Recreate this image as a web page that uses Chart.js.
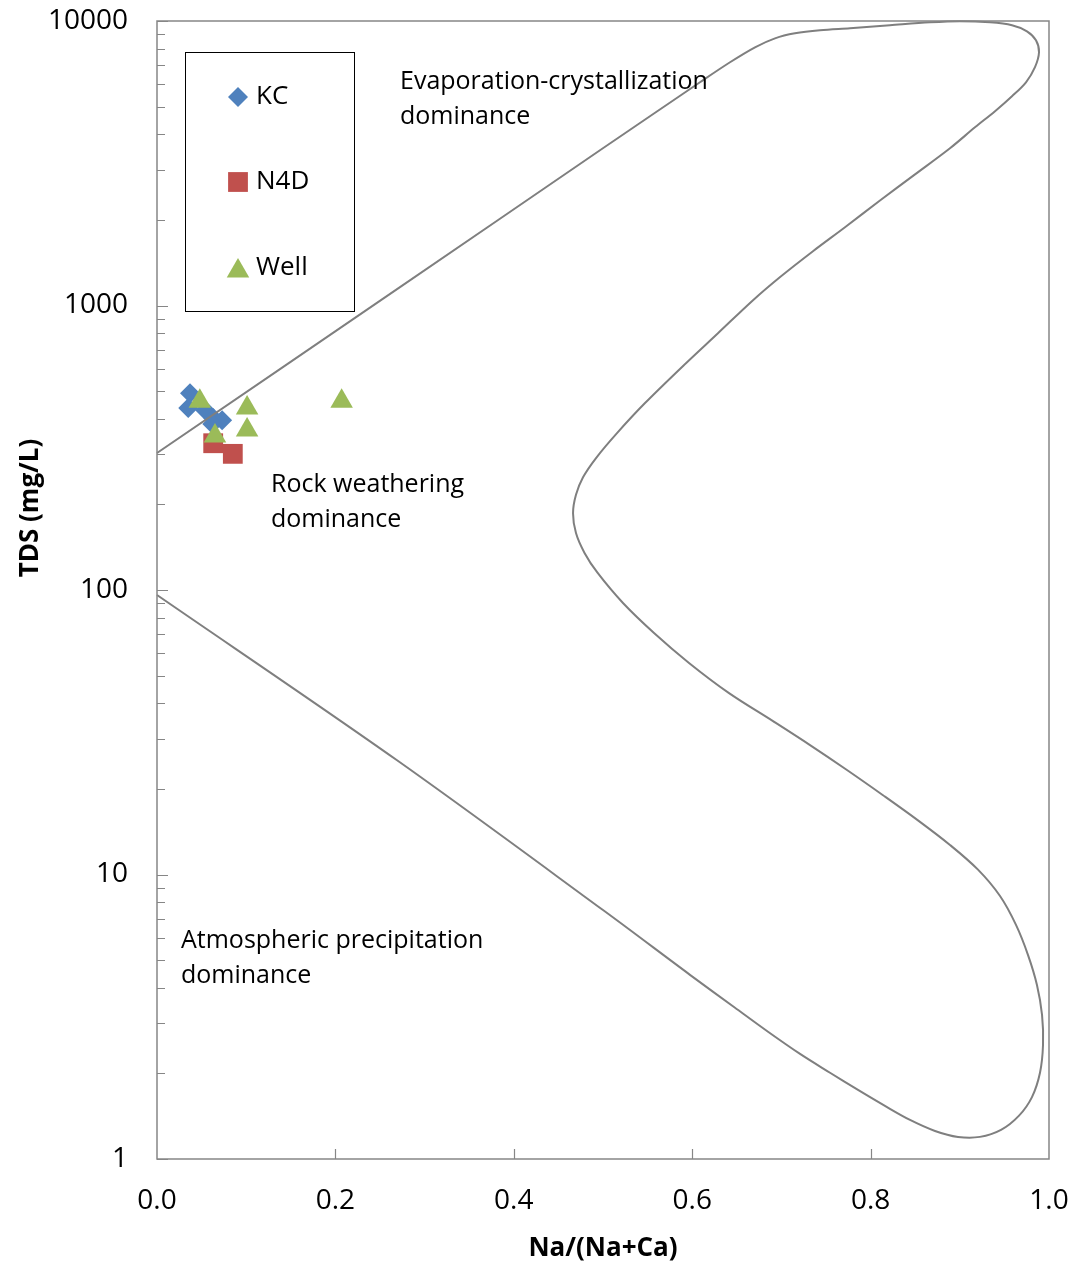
<!DOCTYPE html>
<html>
<head>
<meta charset="utf-8">
<title>Gibbs diagram</title>
<script src="https://cdn.jsdelivr.net/npm/chart.js@4.4.0/dist/chart.umd.min.js"></script>
<style>
  html, body { margin: 0; padding: 0; background: #fff; }
  #wrap { width: 1075px; height: 1266px; }
</style>
</head>
<body>
<div id="wrap"><canvas id="gibbs" width="1075" height="1266"></canvas></div>
<script>
// sample groups: Na/(Na+Ca) ratio and TDS (mg/L)
const kcRatio = [0.037, 0.035, 0.054, 0.063, 0.073, 0.062];
const kcTds = [492, 436, 428, 402, 395, 383];

const n4dRatio = [0.063, 0.085];
const n4dTds = [328, 301];

const wellRatio = [0.048, 0.101, 0.101, 0.065, 0.207];
const wellTds = [461, 436, 365, 348, 461];

// Gibbs boundary envelope, traced from the upper-left end round to the lower-left end
const boundaryRatio = [
  0, 0.2724, 0.4966, 0.6087, 0.6424, 0.6704, 0.6928, 0.7152, 0.7433, 0.7769,
  0.8217, 0.8666, 0.9002, 0.9339, 0.9585, 0.9753, 0.9854, 0.9888, 0.9843, 0.9742,
  0.9585, 0.9395, 0.9170, 0.8890, 0.8498, 0.8105, 0.7713, 0.7354, 0.6996, 0.6682,
  0.6289, 0.5930, 0.5471, 0.5157, 0.4922, 0.4776, 0.4697, 0.4664, 0.4697, 0.4793,
  0.4938, 0.5224, 0.5572, 0.5964, 0.6413, 0.6906, 0.7321, 0.7735, 0.8139, 0.8531,
  0.8890, 0.9204, 0.9451, 0.9630, 0.9765, 0.9865, 0.9922, 0.9933, 0.9899, 0.9809,
  0.9664, 0.9462, 0.9226, 0.8980, 0.8722, 0.8442, 0.8161, 0.7859, 0.7545, 0.7209,
  0.6850, 0.6480, 0.5975, 0.5, 0.2691, 0
];
const boundaryTds = [
  303, 1160, 3513, 6090, 7160, 8080, 8690, 9050, 9280, 9430,
  9660, 9890, 9980, 9890, 9660, 9200, 8550, 7760, 6880, 6090,
  5440, 4820, 4230, 3570, 2890, 2340, 1884, 1552, 1267, 1044,
  799, 627, 454, 356, 291, 249, 216, 186, 158.5, 135,
  115, 90.0, 70.6, 55.4, 43.4, 34.6, 28.5, 23.3, 19.0, 15.5,
  12.7, 10.4, 8.40, 6.65, 5.21, 4.09, 3.21, 2.52, 2.01, 1.65,
  1.42, 1.265, 1.196, 1.196, 1.255, 1.372, 1.537, 1.749, 2.01, 2.34,
  2.80, 3.40, 4.44, 7.50, 25.2, 96
];

const xTicks = [0, 0.2, 0.4, 0.6, 0.8, 1.0];
const yTicks = [1, 10, 100, 1000, 10000];

const seriesNames = ['KC', 'N4D', 'Well'];
const seriesColors = ['#4F81BD', '#C0504D', '#9BBB59'];
const seriesStyles = ['rectRot', 'rect', 'triangle'];
const seriesRadius = [10, 14, 13];

const FONT = '"Open Sans", "Noto Sans", sans-serif';
const AXIS_GREY = '#868686';

function pts(xs, ys) {
  return xs.map((x, i) => ({ x: x, y: ys[i] }));
}

// frame, inside tick marks, y title, legend box and region labels
const gibbsDecor = {
  id: 'gibbsDecor',
  afterDraw(chart) {
    const ctx = chart.ctx;
    const area = chart.chartArea;
    const xs = chart.scales.x;
    const ys = chart.scales.y;

    ctx.save();
    ctx.strokeStyle = AXIS_GREY;
    ctx.lineWidth = 1.5;
    ctx.strokeRect(area.left, area.top, area.right - area.left, area.bottom - area.top);

    ctx.lineWidth = 1.2;
    ctx.beginPath();
    for (let d = 1; d <= 10000; d *= 10) {
      const yMaj = Math.round(ys.getPixelForValue(d)) + 0.5;
      ctx.moveTo(area.left, yMaj);
      ctx.lineTo(area.left + 11, yMaj);
      if (d === 10000) break;
      for (let m = 2; m <= 9; m++) {
        const y = Math.round(ys.getPixelForValue(d * m)) + 0.5;
        ctx.moveTo(area.left, y);
        ctx.lineTo(area.left + 8, y);
      }
    }
    xTicks.slice(1, -1).forEach(v => {
      const x = Math.round(xs.getPixelForValue(v)) + 0.5;
      ctx.moveTo(x, area.bottom);
      ctx.lineTo(x, area.bottom - 10);
    });
    ctx.stroke();

    // y axis title sits a little above the middle of the axis
    ctx.save();
    ctx.translate(31, 508);
    ctx.rotate(-Math.PI / 2);
    ctx.font = 'bold 26px ' + FONT;
    ctx.fillStyle = '#000';
    ctx.textAlign = 'center';
    ctx.textBaseline = 'middle';
    ctx.fillText('TDS (mg/L)', 0, 0);
    ctx.restore();

    // legend
    ctx.strokeStyle = '#000';
    ctx.lineWidth = 1;
    ctx.strokeRect(185.5, 52.5, 169, 259);
    ctx.font = '26px ' + FONT;
    ctx.textBaseline = 'middle';
    ctx.textAlign = 'left';
    const rowY = [97, 182, 268];
    seriesNames.forEach((name, i) => {
      ctx.fillStyle = seriesColors[i];
      const my = seriesStyles[i] === 'triangle' ? rowY[i] + 3 : rowY[i];
      Chart.helpers.drawPoint(ctx, {
        pointStyle: seriesStyles[i], rotation: 0, radius: seriesRadius[i], borderWidth: 0
      }, 238, my);
      ctx.fillStyle = '#000';
      ctx.fillText(name, 256, rowY[i]);
    });

    // region labels
    ctx.font = '25px ' + FONT;
    ctx.fillStyle = '#000';
    const notes = [
      ['Evaporation-crystallization', 400, 82],
      ['dominance', 400, 117],
      ['Rock weathering', 271, 485],
      ['dominance', 271, 520],
      ['Atmospheric precipitation', 181, 941],
      ['dominance', 181, 976]
    ];
    notes.forEach(n => ctx.fillText(n[0], n[1], n[2]));
    ctx.restore();
  }
};

const markerSet = (i, xs, ys, order) => ({
  label: seriesNames[i],
  data: pts(xs, ys),
  pointStyle: seriesStyles[i],
  pointRadius: seriesRadius[i],
  pointHoverRadius: seriesRadius[i],
  pointBackgroundColor: seriesColors[i],
  pointBorderWidth: 0,
  showLine: false,
  order: order
});

const config = {
  type: 'scatter',
  data: {
    datasets: [
      markerSet(0, kcRatio, kcTds, 4),
      {
        label: 'boundary',
        data: pts(boundaryRatio, boundaryTds),
        showLine: true,
        borderColor: '#7f7f7f',
        borderWidth: 2,
        pointRadius: 0,
        tension: 0.33,
        fill: false,
        clip: false,
        order: 3
      },
      markerSet(1, n4dRatio, n4dTds, 2),
      markerSet(2, wellRatio, wellTds, 1)
    ]
  },
  options: {
    responsive: false,
    animation: false,
    layout: { padding: { top: 21, right: 26, left: 0, bottom: 0 } },
    plugins: {
      legend: { display: false },
      tooltip: { enabled: false }
    },
    scales: {
      x: {
        type: 'linear',
        min: 0,
        max: 1,
        afterBuildTicks: s => { s.ticks = xTicks.map(v => ({ value: v })); },
        afterFit: s => { s.height = 107; s.paddingLeft = 0; s.paddingRight = 0; },
        grid: { display: false, drawTicks: false },
        border: { display: false },
        ticks: {
          padding: 25,
          color: '#000',
          font: { family: FONT, size: 28 },
          callback: v => v.toFixed(1)
        },
        title: {
          display: true,
          text: 'Na/(Na+Ca)',
          color: '#000',
          font: { family: FONT, size: 26, weight: 'bold' },
          padding: { top: 0, bottom: 2 }
        }
      },
      y: {
        type: 'logarithmic',
        min: 1,
        max: 10000,
        afterBuildTicks: s => { s.ticks = yTicks.map(v => ({ value: v })); },
        afterFit: s => { s.width = 157; s.paddingTop = 0; s.paddingBottom = 0; },
        grid: { display: false, drawTicks: false },
        border: { display: false },
        ticks: {
          padding: 29,
          color: '#000',
          font: { family: FONT, size: 28 },
          callback: v => String(v)
        },
        title: { display: false }
      }
    }
  },
  plugins: [gibbsDecor]
};

new Chart(document.getElementById('gibbs'), config);
</script>
</body>
</html>
